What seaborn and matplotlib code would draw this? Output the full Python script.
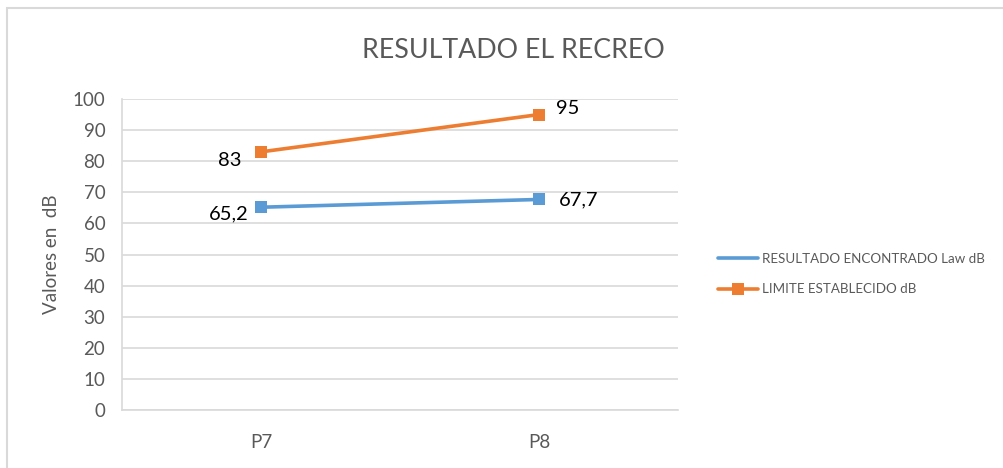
import matplotlib
matplotlib.use("Agg")
import matplotlib.pyplot as plt
import seaborn as sns
import pandas as pd
from matplotlib.lines import Line2D
from matplotlib.patches import Rectangle

categories = ["P7", "P8"]
resultado = [65.2, 67.7]
limite = [83, 95]
resultado_labels = ["65,2", "67,7"]
limite_labels = ["83", "95"]
yticks = [0, 10, 20, 30, 40, 50, 60, 70, 80, 90, 100]

sns.set_theme(style="white")
plt.rcParams["font.family"] = ["Lato", "DejaVu Sans"]

BLUE = "#5B9BD5"
ORANGE = "#ED7D31"
GRAY = "#595959"
GRID = "#D9D9D9"

df = pd.DataFrame({
    "cat": categories * 2,
    "val": resultado + limite,
    "serie": ["RESULTADO ENCONTRADO Law dB"] * 2 + ["LIMITE ESTABLECIDO dB"] * 2,
})

fig = plt.figure(figsize=(10.04, 4.68), dpi=100)
ax = fig.add_axes([122 / 1004, 1 - 410 / 468, (678 - 122) / 1004, (410 - 99) / 468])

sns.lineplot(data=df, x="cat", y="val", hue="serie",
             palette=[BLUE, ORANGE], marker="s", markersize=9,
             markeredgewidth=0, linewidth=2.6, ax=ax, legend=False, sort=False)

ax.set_xlim(-0.5, 1.5)
ax.set_ylim(0, 100)
ax.set_yticks(yticks)
ax.set_yticklabels([str(t) for t in yticks])
ax.yaxis.grid(True, color=GRID, linewidth=1.2)
ax.set_axisbelow(True)
for s in ["top", "right"]:
    ax.spines[s].set_visible(False)
for s in ["left", "bottom"]:
    ax.spines[s].set_color(GRID)
    ax.spines[s].set_linewidth(1.2)
ax.tick_params(axis="both", length=0, colors=GRAY, labelsize=13.5)
ax.tick_params(axis="y", pad=12)
ax.tick_params(axis="x", pad=17)
ax.set_xlabel("")
ax.set_ylabel("Valores en  dB", color=GRAY, fontsize=13.5, labelpad=9)

for i, (v, t) in enumerate(zip(limite, limite_labels)):
    if i == 0:
        ax.annotate(t, (i, v), xytext=(-14, -6), textcoords="offset points",
                    ha="right", va="center", fontsize=14.5, color="black")
    else:
        ax.annotate(t, (i, v), xytext=(12, 4), textcoords="offset points",
                    ha="left", va="center", fontsize=14.5, color="black")
for i, (v, t) in enumerate(zip(resultado, resultado_labels)):
    if i == 0:
        ax.annotate(t, (i, v), xytext=(-9, -5), textcoords="offset points",
                    ha="right", va="center", fontsize=14.5, color="black")
    else:
        ax.annotate(t, (i, v), xytext=(14, 0), textcoords="offset points",
                    ha="left", va="center", fontsize=14.5, color="black")

fig.text(513 / 1004, 1 - 50 / 468, "RESULTADO EL RECREO", ha="center", va="center",
         fontsize=19.3, color=GRAY)

handles = [
    Line2D([0], [0], color=BLUE, linewidth=2.6),
    Line2D([0], [0], color=ORANGE, linewidth=2.6, marker="s", markersize=8, markeredgewidth=0),
]
fig.legend(handles, ["RESULTADO ENCONTRADO Law dB", "LIMITE ESTABLECIDO dB"],
           loc="center left", bbox_to_anchor=(706 / 1004, 1 - 274 / 468),
           frameon=False, fontsize=9.6, labelcolor=GRAY, handlelength=3.0,
           handletextpad=0.3, labelspacing=1.4)

fig.patches.append(Rectangle((7 / 1004, -0.1), 1.2, 1 - 8 / 468 + 0.1,
                             transform=fig.transFigure, fill=False,
                             edgecolor="#D9D9D9", linewidth=1.5))

fig.savefig("out.png", dpi=100)
